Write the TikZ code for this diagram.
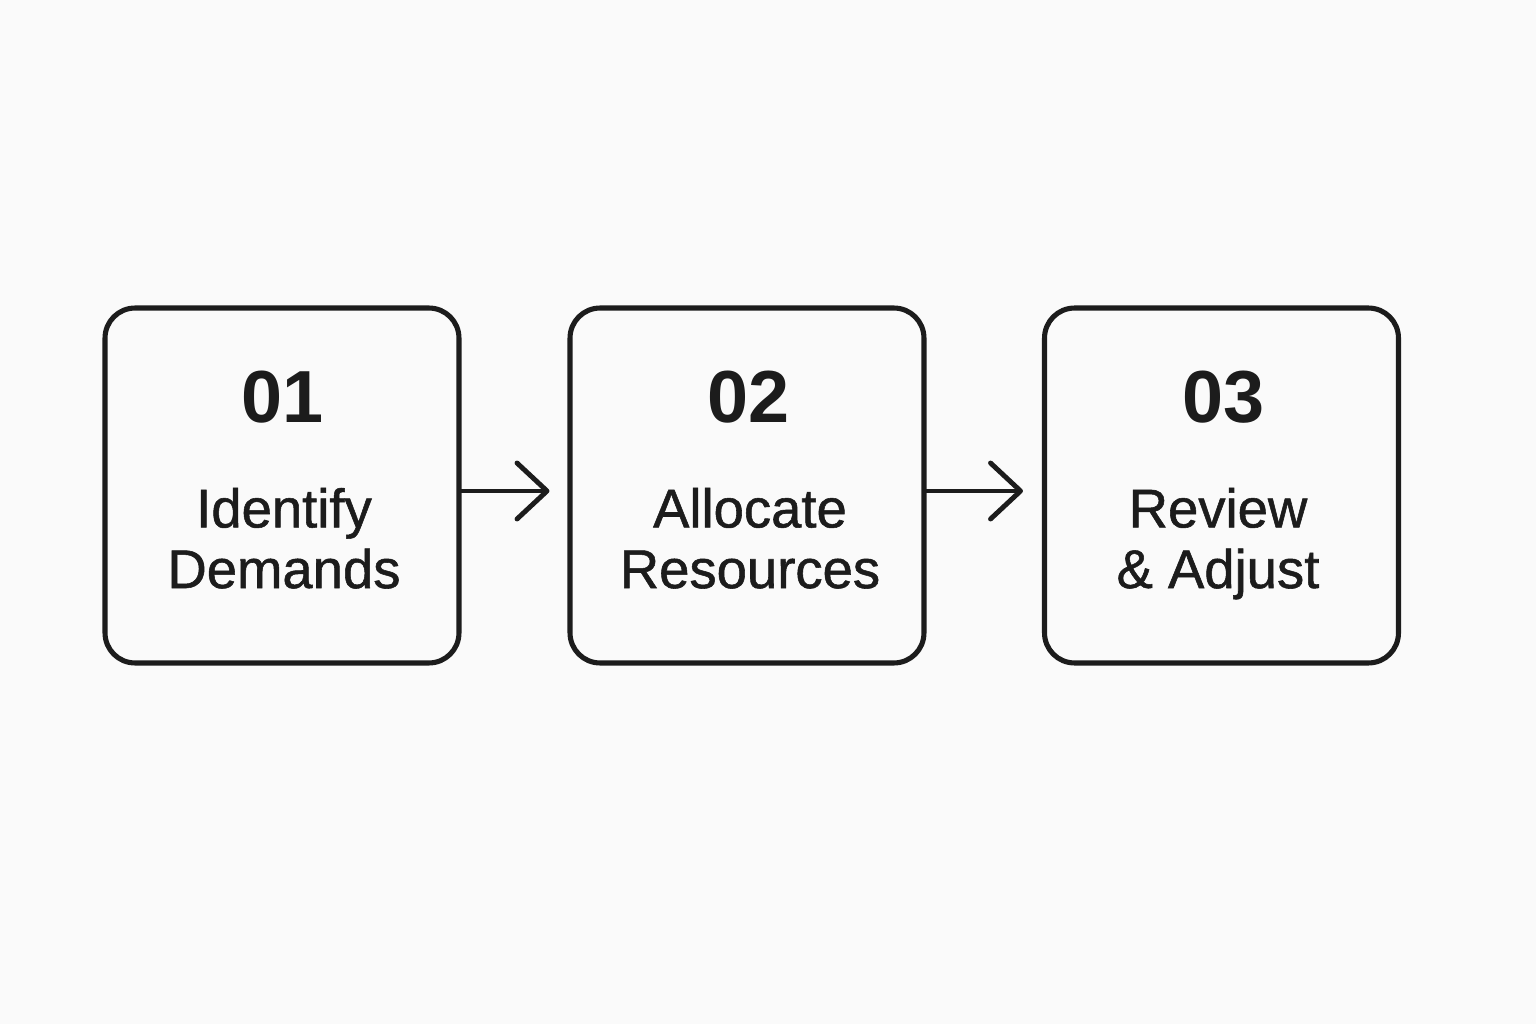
\documentclass[tikz,border=0pt]{standalone}
\usepackage{fontspec}
\setmainfont{Liberation Sans}
\usetikzlibrary{arrows.meta}

\definecolor{ink}{HTML}{1C1C1C}
\definecolor{paper}{HTML}{FAFAFA}

\begin{document}
\begin{tikzpicture}[x=0.02cm, y=-0.02cm,
  stepbox/.style={draw=ink, line width=2.9pt, rounded corners=0.6cm,
    minimum width=7.08cm, minimum height=7.1cm, inner sep=0pt},
  stepnum/.style={text=ink, font=\fontsize{42}{48}\selectfont\bfseries},
  steplabel/.style={text=ink, align=center, text depth=0pt,
    font=\fontsize{31}{34.5}\selectfont\addfontfeature{FakeBold=1}},
  flow/.style={draw=ink, line width=2.8pt, line cap=round,
    -{Straight Barb[length=0.6cm, width=1.12cm, line cap=round, line join=round]}}]

\fill[paper] (0,0) rectangle (1536,1024);
\useasboundingbox (0,0) rectangle (1536,1024);

\node[stepbox] (b1) at (282,485.5) {};
\node[stepbox] (b2) at (747,485.5) {};
\node[stepbox] (b3) at (1221.5,485.5) {};

\node[stepnum] (n1) at (283,397) {01};
\node[stepnum] (n2) at (749,397) {02};
\node[stepnum] (n3) at (1224,397) {03};

\node[steplabel] (l1) at (284,538) {Identify\\Demands};
\node[steplabel] (l2) at (750,538) {Allocate\\Resources};
\node[steplabel] (l3) at (1218,538) {Review\\\& Adjust};

\draw[flow, shorten >=0.36cm] ([yshift=-0.11cm]b1.east) -- ([yshift=-0.11cm]b2.west);
\draw[flow, shorten >=0.38cm] ([yshift=-0.11cm]b2.east) -- ([yshift=-0.11cm]b3.west);
\end{tikzpicture}
\end{document}
